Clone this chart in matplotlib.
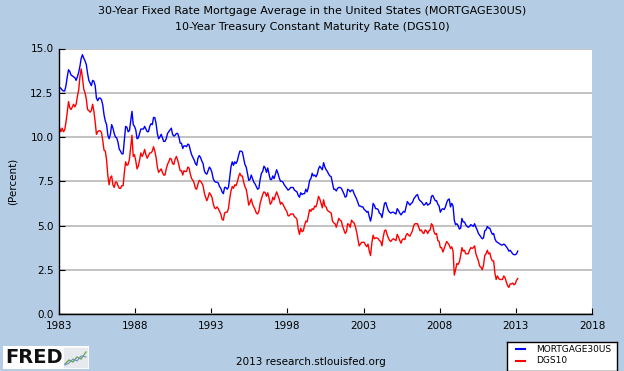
import matplotlib
matplotlib.use("Agg")
import matplotlib.pyplot as plt
import numpy as np

# Monthly values (Jan 1983 .. Feb 2013)
mortgage30us = [
    12.80, 12.75, 12.65, 12.60, 12.60, 12.90, 13.40, 13.80, 13.70, 13.50, 13.45, 13.40,  # 1983
    13.35, 13.20, 13.40, 13.65, 14.00, 14.45, 14.65, 14.45, 14.30, 14.10, 13.60, 13.20,  # 1984
    13.05, 12.90, 13.20, 13.15, 12.90, 12.20, 12.05, 12.20, 12.20, 12.10, 11.80, 11.25,  # 1985
    10.90, 10.70, 10.10, 9.90, 10.15, 10.70, 10.50, 10.20, 10.00, 9.95, 9.70, 9.30,      # 1986
    9.20, 9.05, 9.05, 9.85, 10.60, 10.55, 10.30, 10.35, 10.90, 11.45, 10.70, 10.60,      # 1987
    10.40, 9.90, 9.95, 10.20, 10.45, 10.45, 10.45, 10.60, 10.45, 10.30, 10.30, 10.60,    # 1988
    10.75, 10.70, 11.10, 11.10, 10.75, 10.20, 9.90, 10.00, 10.15, 9.95, 9.75, 9.75,      # 1989
    9.90, 10.20, 10.30, 10.40, 10.50, 10.15, 10.05, 10.10, 10.20, 10.20, 10.00, 9.65,    # 1990
    9.65, 9.35, 9.50, 9.50, 9.45, 9.60, 9.55, 9.25, 9.00, 8.85, 8.70, 8.50,              # 1991
    8.40, 8.80, 8.95, 8.85, 8.65, 8.50, 8.10, 7.95, 7.90, 8.10, 8.30, 8.20,              # 1992
    8.00, 7.65, 7.50, 7.45, 7.45, 7.40, 7.20, 7.10, 6.90, 6.80, 7.15, 7.15,              # 1993
    7.05, 7.15, 7.70, 8.30, 8.60, 8.40, 8.60, 8.50, 8.65, 8.95, 9.20, 9.20,              # 1994
    9.15, 8.80, 8.45, 8.30, 7.95, 7.55, 7.60, 7.85, 7.65, 7.45, 7.35, 7.20,              # 1995
    7.05, 7.10, 7.60, 7.95, 8.05, 8.35, 8.25, 8.00, 8.25, 7.90, 7.60, 7.60,              # 1996
    7.80, 7.65, 7.90, 8.15, 7.95, 7.70, 7.50, 7.50, 7.45, 7.30, 7.20, 7.10,              # 1997
    7.00, 7.05, 7.15, 7.15, 7.15, 7.00, 6.95, 6.90, 6.70, 6.60, 6.85, 6.75,              # 1998
    6.80, 6.80, 7.05, 6.90, 7.15, 7.55, 7.65, 7.95, 7.80, 7.85, 7.75, 7.90,              # 1999
    8.20, 8.35, 8.25, 8.15, 8.55, 8.30, 8.15, 8.05, 7.90, 7.80, 7.75, 7.40,              # 2000
    7.05, 7.05, 6.95, 7.10, 7.15, 7.15, 7.10, 6.95, 6.80, 6.60, 6.65, 7.05,              # 2001
    7.00, 6.90, 7.00, 7.00, 6.80, 6.65, 6.50, 6.30, 6.10, 6.10, 6.05, 6.05,              # 2002
    5.90, 5.85, 5.75, 5.80, 5.50, 5.25, 5.60, 6.25, 6.15, 5.95, 5.95, 5.90,              # 2003
    5.70, 5.65, 5.45, 5.85, 6.25, 6.30, 6.05, 5.85, 5.75, 5.70, 5.75, 5.75,              # 2004
    5.70, 5.65, 5.95, 5.85, 5.70, 5.60, 5.70, 5.80, 5.75, 6.05, 6.35, 6.25,              # 2005
    6.15, 6.25, 6.30, 6.50, 6.60, 6.70, 6.75, 6.50, 6.40, 6.35, 6.25, 6.15,              # 2006
    6.20, 6.30, 6.15, 6.20, 6.25, 6.65, 6.70, 6.55, 6.40, 6.40, 6.20, 6.10,              # 2007
    5.75, 5.90, 5.95, 5.90, 6.05, 6.30, 6.45, 6.50, 6.05, 6.25, 6.10, 5.30,              # 2008
    5.05, 5.10, 5.00, 4.80, 4.85, 5.40, 5.20, 5.20, 5.05, 4.95, 4.90, 4.95,              # 2009
    5.05, 5.00, 4.95, 5.10, 4.90, 4.75, 4.55, 4.45, 4.35, 4.25, 4.30, 4.70,              # 2010
    4.75, 4.95, 4.85, 4.85, 4.65, 4.50, 4.55, 4.25, 4.10, 4.05, 4.00, 3.95,              # 2011
    3.90, 3.90, 3.95, 3.90, 3.80, 3.70, 3.55, 3.60, 3.50, 3.40, 3.35, 3.35,              # 2012
    3.40, 3.55,                                                                          # 2013
]

dgs10 = [
    10.50, 10.30, 10.50, 10.30, 10.40, 10.85, 11.40, 12.00, 11.65, 11.55, 11.70, 11.85,  # 1983
    11.70, 11.85, 12.30, 12.65, 13.40, 13.85, 13.35, 12.70, 12.50, 12.15, 11.55, 11.50,  # 1984
    11.40, 11.50, 11.85, 11.45, 10.85, 10.15, 10.30, 10.35, 10.35, 10.25, 9.80, 9.25,    # 1985
    9.20, 8.70, 7.80, 7.30, 7.70, 7.80, 7.30, 7.15, 7.45, 7.45, 7.25, 7.10,              # 1986
    7.10, 7.25, 7.25, 8.00, 8.60, 8.40, 8.45, 8.75, 9.45, 10.10, 8.90, 9.00,             # 1987
    8.65, 8.20, 8.35, 8.70, 9.10, 8.90, 9.05, 9.30, 9.00, 8.80, 8.95, 9.10,              # 1988
    9.10, 9.20, 9.45, 9.20, 8.85, 8.30, 8.00, 8.10, 8.20, 8.00, 7.85, 7.85,              # 1989
    8.20, 8.45, 8.60, 8.80, 8.75, 8.50, 8.45, 8.75, 8.90, 8.70, 8.40, 8.10,              # 1990
    8.10, 7.85, 8.10, 8.05, 8.05, 8.30, 8.25, 7.90, 7.65, 7.55, 7.40, 7.10,              # 1991
    7.05, 7.35, 7.55, 7.50, 7.40, 7.25, 6.85, 6.60, 6.40, 6.60, 6.85, 6.75,              # 1992
    6.60, 6.25, 6.00, 5.95, 6.05, 5.95, 5.80, 5.65, 5.35, 5.30, 5.70, 5.75,              # 1993
    5.75, 5.95, 6.50, 6.95, 7.20, 7.10, 7.30, 7.25, 7.45, 7.75, 7.95, 7.80,              # 1994
    7.80, 7.45, 7.20, 7.05, 6.65, 6.15, 6.30, 6.50, 6.20, 6.05, 5.90, 5.70,              # 1995
    5.65, 5.80, 6.25, 6.50, 6.75, 6.90, 6.85, 6.65, 6.85, 6.55, 6.20, 6.30,              # 1996
    6.60, 6.45, 6.70, 6.90, 6.70, 6.50, 6.20, 6.30, 6.20, 6.05, 5.90, 5.80,              # 1997
    5.55, 5.55, 5.65, 5.65, 5.65, 5.50, 5.45, 5.35, 4.80, 4.50, 4.85, 4.65,              # 1998
    4.70, 5.00, 5.25, 5.20, 5.55, 5.90, 5.80, 5.95, 5.90, 6.10, 6.05, 6.30,              # 1999
    6.65, 6.50, 6.25, 6.00, 6.45, 6.10, 6.05, 5.85, 5.80, 5.75, 5.70, 5.25,              # 2000
    5.15, 5.10, 4.90, 5.15, 5.40, 5.30, 5.25, 4.95, 4.75, 4.55, 4.65, 5.10,              # 2001
    5.05, 4.90, 5.30, 5.20, 5.15, 4.95, 4.65, 4.25, 3.85, 3.95, 4.05, 4.05,              # 2002
    4.05, 3.90, 3.80, 3.95, 3.55, 3.30, 4.00, 4.45, 4.25, 4.30, 4.30, 4.25,              # 2003
    4.15, 4.10, 3.85, 4.35, 4.70, 4.75, 4.50, 4.30, 4.15, 4.10, 4.20, 4.25,              # 2004
    4.20, 4.15, 4.50, 4.35, 4.15, 4.00, 4.20, 4.25, 4.20, 4.45, 4.55, 4.45,              # 2005
    4.40, 4.55, 4.70, 5.00, 5.10, 5.10, 5.10, 4.90, 4.70, 4.75, 4.60, 4.55,              # 2006
    4.75, 4.70, 4.55, 4.70, 4.75, 5.10, 5.00, 4.65, 4.50, 4.55, 4.15, 4.10,              # 2007
    3.75, 3.75, 3.50, 3.70, 3.90, 4.10, 4.00, 3.90, 3.70, 3.80, 3.55, 2.20,              # 2008
    2.50, 2.85, 2.80, 2.95, 3.30, 3.75, 3.55, 3.60, 3.40, 3.40, 3.40, 3.60,              # 2009
    3.75, 3.70, 3.75, 3.85, 3.40, 3.20, 3.00, 2.70, 2.65, 2.50, 2.75, 3.30,              # 2010
    3.40, 3.60, 3.40, 3.45, 3.15, 3.00, 3.00, 2.30, 1.95, 2.15, 2.00, 1.95,              # 2011
    1.95, 1.95, 2.15, 2.05, 1.80, 1.60, 1.50, 1.70, 1.70, 1.75, 1.65, 1.70,              # 2012
    1.90, 2.00,                                                                          # 2013
]

start_year = 1983
x_ticks = [1983, 1988, 1993, 1998, 2003, 2008, 2013, 2018]
y_ticks = [0.0, 2.5, 5.0, 7.5, 10.0, 12.5, 15.0]
title_lines = ["30-Year Fixed Rate Mortgage Average in the United States (MORTGAGE30US)",
               "10-Year Treasury Constant Maturity Rate (DGS10)"]
series_names = ["MORTGAGE30US", "DGS10"]
series_colors = ["#0000ff", "#ff0000"]

def month_pos(n):
    return start_year + (np.arange(n) + 0.5) / 12.0

BG = "#b5cde4"
fig = plt.figure(figsize=(6.24, 3.71), dpi=100, facecolor=BG)
ax = fig.add_axes([59 / 624, 1 - 314 / 371, (592 - 59) / 624, (314 - 48.5) / 371])
ax.set_facecolor("white")

for vals, c in zip([mortgage30us, dgs10], series_colors):
    ax.plot(month_pos(len(vals)), vals, color=c, linewidth=1.0)

ax.set_xlim(1983, 2018)
ax.set_ylim(0, 15)
ax.set_xticks(x_ticks)
ax.set_xticklabels([str(t) for t in x_ticks])
ax.set_yticks(y_ticks)
ax.set_yticklabels([f"{t:.1f}" for t in y_ticks])
ax.grid(axis="y", color="#bdbdbd", linewidth=1.3)
ax.set_axisbelow(True)
for s in ["top", "right"]:
    ax.spines[s].set_visible(False)
for s in ["left", "bottom"]:
    ax.spines[s].set_color("black")
    ax.spines[s].set_linewidth(1.0)
ax.tick_params(axis="both", direction="in", length=4, width=0.8, labelsize=7.5,
               colors="black")
ax.tick_params(axis="y", pad=4)
ax.tick_params(axis="x", pad=5)
ax.set_ylabel("(Percent)", fontsize=7.5, labelpad=9)

fig.text(0.5, 1 - 11 / 371, title_lines[0], ha="center", va="center", fontsize=8)
fig.text(0.5, 1 - 27 / 371, title_lines[1], ha="center", va="center", fontsize=8)
fig.text(311 / 624, 1 - 362 / 371, "2013 research.stlouisfed.org",
         ha="center", va="center", fontsize=7.5)

# Legend box
lax = fig.add_axes([507 / 624, 0, (617 - 507) / 624, (371 - 342) / 371])
lax.set_xlim(0, 110)
lax.set_ylim(29, 0)
lax.set_facecolor("white")
lax.set_xticks([])
lax.set_yticks([])
for s in lax.spines.values():
    s.set_color("black")
    s.set_linewidth(1.0)
for i, (name, c) in enumerate(zip(series_names, series_colors)):
    yy = 7 + i * 11.5
    lax.plot([9, 18], [yy, yy], color=c, linewidth=1.5)
    lax.text(29, yy, name, fontsize=6.5, va="center", ha="left")

# FRED logo
fax = fig.add_axes([3 / 624, 1 - 369 / 371, (89 - 3) / 624, (369 - 346) / 371])
fax.set_xlim(0, 86)
fax.set_ylim(0, 23)
fax.set_facecolor("white")
fax.set_xticks([])
fax.set_yticks([])
for s in fax.spines.values():
    s.set_visible(False)
fax.text(2, 11.5, "FRED", fontsize=14, fontweight="bold", va="center", ha="left",
         color="#111111")
fax.add_patch(plt.Rectangle((61, 2), 23, 19, color="#e6e9ee"))
fax.plot([62, 66, 70, 74, 78, 83], [5, 9, 7, 12, 10, 17], color="#6aa84f", linewidth=1)
fax.plot([62, 66, 70, 74, 78, 83], [4, 6, 10, 8, 13, 12], color="#6f8fc8", linewidth=0.8)

fig.savefig("out.png", dpi=100, facecolor=BG)
